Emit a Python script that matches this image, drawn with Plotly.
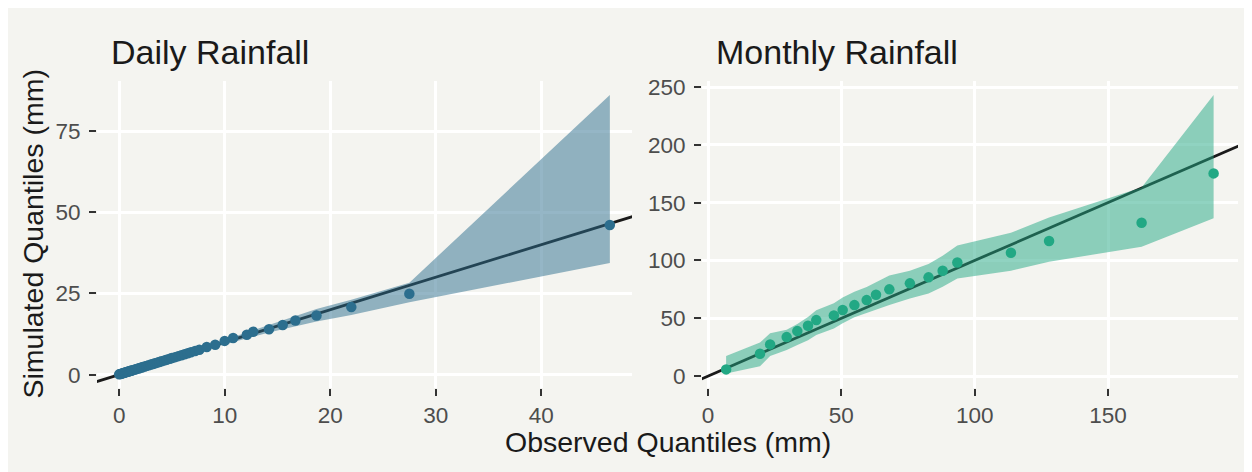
import plotly.graph_objects as go

# ---------------- data ----------------
daily_obs = [0.0, 0.1, 0.2, 0.3, 0.4, 0.5, 0.6, 0.7, 0.8, 0.9, 1.0, 1.1, 1.2, 1.3, 1.5, 1.6, 1.8, 1.9,
             2.1, 2.2, 2.4, 2.6, 2.8, 3.0, 3.2, 3.4, 3.6, 3.8, 4.0, 4.3, 4.5, 4.8, 5.0, 5.3, 5.6, 5.9,
             6.2, 6.5, 6.8, 7.2, 7.6, 8.3, 9.1, 10.0, 10.8, 12.1, 12.7, 14.2, 15.5, 16.7, 18.7, 22.0,
             27.5, 46.5]
daily_sim = [0.1, 0.2, 0.3, 0.4, 0.5, 0.6, 0.7, 0.8, 0.9, 1.0, 1.1, 1.2, 1.3, 1.4, 1.6, 1.7, 1.9, 2.0,
             2.2, 2.3, 2.5, 2.7, 2.9, 3.1, 3.3, 3.5, 3.7, 3.9, 4.1, 4.4, 4.6, 4.9, 5.1, 5.4, 5.7, 6.0,
             6.3, 6.6, 6.9, 7.3, 7.7, 8.5, 9.2, 10.4, 11.3, 12.3, 13.2, 14.0, 15.3, 16.7, 18.2, 20.8,
             24.9, 46.1]
daily_lo = [0.0, 0.0, 0.1, 0.2, 0.3, 0.4, 0.5, 0.6, 0.7, 0.8, 0.9, 1.0, 1.1, 1.2, 1.4, 1.5, 1.7, 1.8,
            2.0, 2.1, 2.3, 2.4, 2.6, 2.8, 3.0, 3.2, 3.4, 3.6, 3.8, 4.0, 4.2, 4.5, 4.7, 5.0, 5.2, 5.5,
            5.8, 6.1, 6.4, 6.7, 7.1, 7.7, 8.5, 9.3, 10.0, 11.2, 11.8, 13.0, 14.0, 15.0, 16.4, 18.4,
            22.3, 34.4]
daily_hi = [0.3, 0.4, 0.5, 0.6, 0.7, 0.8, 0.9, 1.0, 1.1, 1.2, 1.3, 1.4, 1.5, 1.6, 1.8, 1.9, 2.1, 2.2,
            2.4, 2.5, 2.7, 2.9, 3.1, 3.3, 3.5, 3.8, 4.0, 4.2, 4.4, 4.7, 4.9, 5.2, 5.5, 5.8, 6.1, 6.4,
            6.8, 7.1, 7.4, 7.8, 8.3, 9.0, 9.9, 10.9, 11.7, 13.0, 13.7, 15.3, 16.7, 18.0, 20.2, 23.1,
            28.3, 86.1]

monthly_obs = [6.8, 19.5, 23.3, 29.5, 33.5, 37.5, 40.6, 47.2, 50.5, 54.9, 59.5, 63.0, 68.0, 75.7,
               82.7, 88.0, 93.5, 113.6, 127.9, 162.6, 189.6]
monthly_sim = [5.8, 19.3, 27.4, 33.7, 38.9, 43.5, 48.4, 52.5, 57.1, 61.4, 65.7, 70.3, 75.0, 80.2,
               85.4, 91.1, 98.3, 106.7, 116.8, 132.6, 175.3]
monthly_lo = [2.3, 8.6, 17.3, 22.5, 26.8, 31.1, 35.5, 41.2, 45.6, 50.8, 54.2, 57.1, 61.4, 67.2,
              71.5, 77.2, 84.5, 91.1, 98.9, 111.9, 136.4]
monthly_hi = [17.3, 29.0, 37.0, 40.0, 45.0, 51.0, 57.0, 63.0, 68.0, 73.0, 77.0, 81.0, 87.0, 91.0,
              97.0, 104.0, 113.0, 124.0, 137.2, 163.1, 243.1]

panel_titles = ["Daily Rainfall", "Monthly Rainfall"]
x_title = "Observed Quantiles (mm)"
y_title = "Simulated Quantiles (mm)"

# ---------------- style ----------------
BG = "#F4F4F0"
COL_D = "#2C6E8E"
FILL_D = "rgba(44,110,142,0.5)"
COL_M = "#22A884"
FILL_M = "rgba(34,168,132,0.5)"
FONT = "Liberation Sans, Arial, sans-serif"

x1_range = [-2.1, 48.6]
y1_range = [-4.1, 90.4]
x2_range = [-2.25, 198.75]
y2_range = [-10.3, 255.2]

fig = go.Figure()


def add_panel(obs, sim, lo, hi, col, fill, xa, ya, xr):
    # 1:1 reference line (clipped to the panel)
    fig.add_trace(go.Scatter(x=[xr[0] - 5, xr[1] + 5], y=[xr[0] - 5, xr[1] + 5], mode="lines",
                             line=dict(color="#1A1A1A", width=2.8), xaxis=xa, yaxis=ya,
                             showlegend=False, hoverinfo="skip"))
    # envelope
    fig.add_trace(go.Scatter(x=list(obs) + list(obs)[::-1], y=list(hi) + list(lo)[::-1],
                             mode="lines", fill="toself", fillcolor=fill, line=dict(width=0),
                             xaxis=xa, yaxis=ya, showlegend=False, hoverinfo="skip"))
    # points
    fig.add_trace(go.Scatter(x=obs, y=sim, mode="markers",
                             marker=dict(color=col, size=10.5, line=dict(width=0)),
                             xaxis=xa, yaxis=ya, showlegend=False))


add_panel(daily_obs, daily_sim, daily_lo, daily_hi, COL_D, FILL_D, "x", "y", x1_range)
add_panel(monthly_obs, monthly_sim, monthly_lo, monthly_hi, COL_M, FILL_M, "x2", "y2", x2_range)

axis_common = dict(showgrid=True, gridcolor="white", gridwidth=2.7, zeroline=False,
                   showline=False, ticks="outside", ticklen=7, tickwidth=2.2, tickcolor="#333333",
                   tickfont=dict(family=FONT, size=22.5, color="#4D4D4D"))

W, H = 1244, 464
ml, mr, mt, mb = 89, 14, 73, 84
pw = W - ml - mr
d1 = [0, 535 / pw]
d2 = [(694 - ml) / pw, 1]

fig.update_layout(
    width=W, height=H,
    margin=dict(l=ml, r=mr, t=mt, b=mb, pad=0),
    paper_bgcolor=BG, plot_bgcolor=BG,
    font=dict(family=FONT),
    xaxis=dict(domain=d1, range=x1_range, dtick=10, tick0=0, anchor="y", **axis_common),
    yaxis=dict(domain=[0, 1], range=y1_range, dtick=25, tick0=0, anchor="x",
               ticklabelstandoff=4, **axis_common),
    xaxis2=dict(domain=d2, range=x2_range, dtick=50, tick0=0, anchor="y2", **axis_common),
    yaxis2=dict(domain=[0, 1], range=y2_range, dtick=50, tick0=0, anchor="x2",
                ticklabelstandoff=4, **axis_common),
    annotations=[
        dict(text=panel_titles[0], xref="x domain", yref="paper", x=0.0224, y=1,
             xanchor="left", yanchor="bottom", yshift=8, showarrow=False,
             font=dict(family=FONT, size=34, color="#1A1A1A")),
        dict(text=panel_titles[1], xref="x2 domain", yref="paper", x=0.0224, y=1,
             xanchor="left", yanchor="bottom", yshift=8, showarrow=False,
             font=dict(family=FONT, size=34, color="#1A1A1A")),
        dict(text=x_title, xref="paper", yref="paper", x=0.5, y=0, xanchor="center",
             yanchor="top", yshift=-36, showarrow=False,
             font=dict(family=FONT, size=28.5, color="#1A1A1A")),
        dict(text=y_title, xref="paper", yref="paper", x=(24 - ml) / pw, y=0.5,
             xanchor="center", yanchor="middle", textangle=-90, showarrow=False,
             font=dict(family=FONT, size=28.5, color="#1A1A1A")),
    ],
)

fig.write_html("out.html")
